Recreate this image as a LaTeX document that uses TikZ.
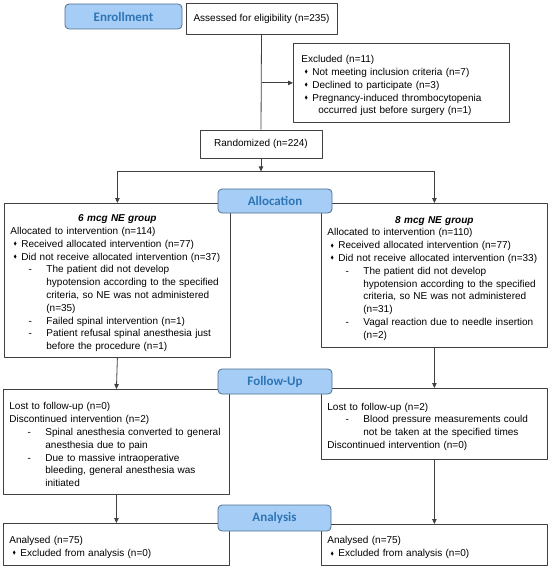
\documentclass[tikz,border=0pt]{standalone}
\usepackage{amssymb}
\usepackage{graphicx}
\usepackage{fontspec}
\setmainfont{Liberation Sans}
\newfontfamily\stagefont{Carlito}
\usetikzlibrary{arrows.meta}
\usepackage{xcolor}

\definecolor{stagefill}{HTML}{A6CDF6}
\definecolor{stageline}{HTML}{4F6F8F}
\definecolor{stagetext}{HTML}{2E75B6}
\definecolor{linegray}{HTML}{404040}

% list helpers for the text inside the boxes
\newcommand{\diamark}{\raisebox{0.3ex}{\scalebox{0.5}{$\blacklozenge$}}}
\newcommand{\bitem}{\par\leftskip=11pt\noindent\llap{\diamark\hspace{4.5pt}}}
\newcommand{\ditem}{\par\leftskip=36pt\noindent\llap{-\hspace{14.5pt}}}
\newcommand{\pline}{\par\leftskip=0pt\noindent}
\newcommand{\grouptitle}[1]{\par{\centering\bfseries\itshape #1\par}}
\hyphenpenalty=10000

\begin{document}
\begin{tikzpicture}[x=1pt, y=-1pt, line join=round,
    box/.style={draw=linegray, line width=0.8pt, rectangle, inner ysep=3pt,
      font=\fontsize{10}{12.8}\selectfont},
    listbox/.style={box, anchor=north west, align=left, inner xsep=6pt},
    stage/.style={draw=stageline, line width=0.8pt, fill=stagefill, rounded corners=4pt,
      text=stagetext, font=\stagefont\bfseries\fontsize{13}{13}\selectfont},
    conn/.style={draw=linegray, line width=0.8pt},
    arr/.style={conn, -{Triangle[length=5pt, width=4.5pt]}}]

    \useasboundingbox (0,0) rectangle (550,569);

    % ==========================================
    % ENROLLMENT
    % ==========================================

    \node[stage, minimum width=117pt, minimum height=25pt] (enroll) at (123.5,16.5) {Enrollment};

    \node[box, align=center, minimum width=151pt, minimum height=31pt] (assessed) at (261.5,18.5)
      {Assessed for eligibility (n=235)};

    \node[listbox, inner xsep=8pt, text width=200pt, minimum height=79pt] (excluded) at (293,43)
      {\pline Excluded (n=11)
       \bitem Not meeting inclusion criteria (n=7)
       \bitem Declined to participate (n=3)
       \bitem Pregnancy-induced thrombocytopenia\newline
         \hspace*{6pt}occurred just before surgery (n=1)\par};

    \node[box, align=center, minimum width=122pt, minimum height=28pt] (randomized) at (261,144)
      {Randomized (n=224)};

    \draw[conn] (assessed.south) -- (randomized.north);
    \draw[arr] (assessed.south |- excluded.west) -- (excluded.west);

    % ==========================================
    % ALLOCATION
    % ==========================================

    \node[listbox, text width=214pt, minimum height=154pt] (grpsix) at (4,203)
      {\grouptitle{6 mcg NE group}
       \pline Allocated to intervention (n=114)
       \bitem Received allocated intervention (n=77)
       \bitem Did not receive allocated intervention (n=37)
       \ditem The patient did not develop\newline hypotension according to the specified\newline
         criteria, so NE was not administered\newline (n=35)
       \ditem Failed spinal intervention (n=1)
       \ditem Patient refusal spinal anesthesia just\newline before the procedure (n=1)\par};

    \node[listbox, text width=214pt, minimum height=144pt] (grpeight) at (321,203)
      {\grouptitle{8 mcg NE group}
       \pline Allocated to intervention (n=110)
       \bitem Received allocated intervention (n=77)
       \bitem Did not receive allocated intervention (n=33)
       \ditem The patient did not develop\newline hypotension according to the specified\newline
         criteria, so NE was not administered\newline (n=31)
       \ditem Vagal reaction due to needle insertion\newline (n=2)\par};

    \path (randomized.south) ++(0,13) coordinate (split);
    \draw[arr] (randomized.south) -- (split);
    \draw[conn] (split -| grpsix.north) -- (split -| grpeight.north);
    \draw[arr] (split -| grpsix.north) -- (grpsix.north);
    \draw[arr] (split -| grpeight.north) -- (grpeight.north);

    \node[stage, minimum width=114pt, minimum height=24pt] (allocation) at (275,201) {Allocation};

    % ==========================================
    % FOLLOW-UP
    % ==========================================

    \node[listbox, text width=214pt, minimum height=105pt] (fusix) at (3,389)
      {\pline Lost to follow-up (n=0)
       \pline Discontinued intervention (n=2)
       \ditem Spinal anesthesia converted to general\newline anesthesia due to pain
       \ditem Due to massive intraoperative\newline bleeding, general anesthesia was\newline initiated\par};

    \node[listbox, text width=214pt, minimum height=71pt] (fueight) at (321,388)
      {\pline Lost to follow-up (n=2)
       \ditem Blood pressure measurements could\newline not be taken at the specified times
       \pline Discontinued intervention (n=0)\par};

    \draw[arr] (grpsix.south) -- (fusix.north);
    \draw[arr] (grpeight.south) -- (fueight.north);

    \node[stage, minimum width=114pt, minimum height=25pt] (followup) at (275,381.5) {Follow-Up};

    % ==========================================
    % ANALYSIS
    % ==========================================

    \node[listbox, text width=214pt, minimum height=42pt] (ansix) at (3,523)
      {\pline Analysed (n=75)
       \bitem Excluded from analysis (n=0)\par};

    \node[listbox, text width=214pt, minimum height=41pt] (aneight) at (321,524)
      {\pline Analysed (n=75)
       \bitem Excluded from analysis (n=0)\par};

    \draw[arr] (fusix.south) -- (ansix.north);
    \draw[arr] (fueight.south) -- (aneight.north);

    \node[stage, minimum width=113pt, minimum height=26pt] (analysis) at (274.5,518) {Analysis};

\end{tikzpicture}
\end{document}
